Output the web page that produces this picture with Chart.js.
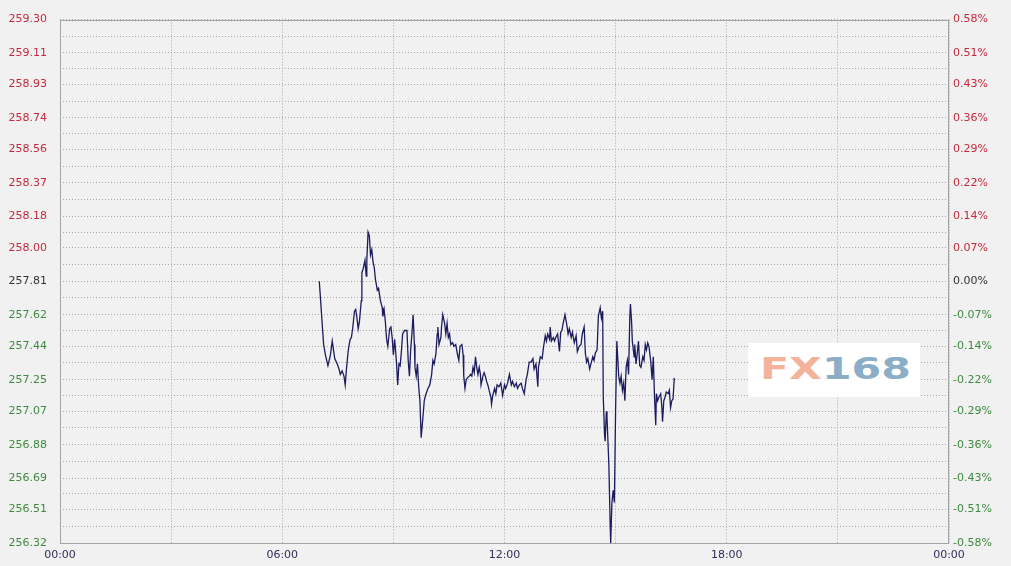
<!DOCTYPE html>
<html>
<head>
<meta charset="utf-8">
<script src="https://cdn.jsdelivr.net/npm/chart.js@4.4.0/dist/chart.umd.min.js"></script>
<style>
  html, body { margin: 0; padding: 0; background: #f1f1f1; }
  #wrap { position: relative; width: 1011px; height: 566px; }
  #logo {
    position: absolute; left: 748px; top: 343px; width: 172px; height: 54px;
    background: #fff; overflow: hidden;
  }
  #logo div {
    position: absolute; left: 12px; top: 6px; white-space: nowrap;
    font-family: "DejaVu Sans", sans-serif; font-weight: bold; font-size: 30px; line-height: 40px;
    transform: scaleX(1.42); transform-origin: left center;
  }
  #logo .fx { color: #f4b29b; }
  #logo .num { color: #8cadc6; }
</style>
</head>
<body>
<div id="wrap">
  <canvas id="myChart" width="1011" height="566" style="width:1011px;height:566px"></canvas>
  <div id="logo"><div><span class="fx">FX</span><span class="num">168</span></div></div>
</div>
<script>
  // tick labels, top to bottom
  const priceTicks = ['259.30', '259.11', '258.93', '258.74', '258.56', '258.37', '258.18', '258.00', '257.81',
    '257.62', '257.44', '257.25', '257.07', '256.88', '256.69', '256.51', '256.32'];
  const pctTicks = ['0.58%', '0.51%', '0.43%', '0.36%', '0.29%', '0.22%', '0.14%', '0.07%', '0.00%',
    '-0.07%', '-0.14%', '-0.22%', '-0.29%', '-0.36%', '-0.43%', '-0.51%', '-0.58%'];
  const timeTicks = ['00:00', '06:00', '12:00', '18:00', '00:00'];

  // intraday series
  const times = [
    '07:00', '07:07', '07:10', '07:14', '07:18', '07:21', '07:23', '07:25', '07:29', '07:32', '07:34', '07:37', '07:40', '07:42', '07:44', '07:47',
    '07:50', '07:52', '07:54', '07:57', '07:59', '08:01', '08:03', '08:05', '08:08', '08:09', '08:11', '08:14', '08:16', '08:17', '08:19', '08:21',
    '08:23', '08:25', '08:27', '08:29', '08:31', '08:34', '08:36', '08:39', '08:42', '08:43', '08:45', '08:47', '08:49', '08:51', '08:54', '08:56',
    '08:58', '09:00', '09:02', '09:03', '09:05', '09:07', '09:09', '09:11', '09:13', '09:15', '09:18', '09:22', '09:24', '09:26', '09:28', '09:30',
    '09:32', '09:34', '09:35', '09:37', '09:39', '09:41', '09:43', '09:45', '09:48', '09:50', '09:52', '09:54', '09:56', '09:59', '10:02', '10:04',
    '10:06', '10:09', '10:11', '10:12', '10:14', '10:17', '10:18', '10:20', '10:23', '10:25', '10:27', '10:29', '10:31', '10:33', '10:36', '10:38',
    '10:41', '10:44', '10:46', '10:48', '10:51', '10:53', '10:54', '10:56', '10:58', '11:00', '11:03', '11:05', '11:07', '11:09', '11:11', '11:13',
    '11:15', '11:17', '11:19', '11:21', '11:22', '11:25', '11:27', '11:29', '11:31', '11:33', '11:35', '11:38', '11:39', '11:41', '11:44', '11:46',
    '11:48', '11:51', '11:54', '11:57', '12:00', '12:02', '12:05', '12:08', '12:11', '12:13', '12:16', '12:19', '12:21', '12:24', '12:27', '12:29',
    '12:32', '12:35', '12:37', '12:40', '12:43', '12:46', '12:48', '12:51', '12:54', '12:55', '12:58', '13:01', '13:03', '13:06', '13:08', '13:10',
    '13:13', '13:14', '13:16', '13:19', '13:21', '13:23', '13:26', '13:29', '13:31', '13:33', '13:35', '13:38', '13:41', '13:43', '13:45', '13:48',
    '13:50', '13:53', '13:56', '13:58', '14:01', '14:04', '14:06', '14:09', '14:11', '14:13', '14:15', '14:18', '14:20', '14:23', '14:25', '14:27',
    '14:30', '14:32', '14:35', '14:37', '14:39', '14:40', '14:42', '14:43', '14:45', '14:46', '14:49', '14:51', '14:52', '14:54', '14:56', '14:58',
    '15:00', '15:02', '15:03', '15:05', '15:07', '15:09', '15:11', '15:13', '15:15', '15:17', '15:19', '15:21', '15:23', '15:24', '15:26', '15:27',
    '15:30', '15:31', '15:33', '15:35', '15:37', '15:39', '15:41', '15:44', '15:46', '15:48', '15:50', '15:52', '15:54', '15:57', '15:59', '16:01',
    '16:03', '16:05', '16:06', '16:08', '16:10', '16:13', '16:15', '16:16', '16:18', '16:20', '16:22', '16:25', '16:27', '16:29', '16:31', '16:33',
    '16:35'
  ];
  const prices = [
    257.81, 257.45, 257.39, 257.33, 257.39, 257.47, 257.42, 257.37, 257.34, 257.31, 257.28, 257.30, 257.27, 257.22, 257.31, 257.42,
    257.48, 257.49, 257.54, 257.64, 257.65, 257.60, 257.54, 257.58, 257.70, 257.86, 257.88, 257.93, 257.84, 257.93, 258.09, 258.07,
    257.96, 257.99, 257.92, 257.89, 257.82, 257.76, 257.77, 257.70, 257.66, 257.61, 257.65, 257.58, 257.48, 257.44, 257.54, 257.55,
    257.49, 257.39, 257.48, 257.44, 257.35, 257.22, 257.34, 257.33, 257.41, 257.51, 257.53, 257.53, 257.36, 257.27, 257.42, 257.51,
    257.62, 257.45, 257.32, 257.27, 257.34, 257.21, 257.13, 256.92, 257.04, 257.13, 257.16, 257.18, 257.20, 257.22, 257.28, 257.36,
    257.34, 257.40, 257.51, 257.55, 257.45, 257.49, 257.55, 257.62, 257.57, 257.51, 257.57, 257.49, 257.51, 257.45, 257.46, 257.44,
    257.45, 257.39, 257.36, 257.44, 257.45, 257.39, 257.27, 257.20, 257.25, 257.26, 257.27, 257.28, 257.27, 257.32, 257.29, 257.38,
    257.32, 257.28, 257.32, 257.28, 257.22, 257.27, 257.29, 257.27, 257.24, 257.22, 257.19, 257.15, 257.11, 257.16, 257.20, 257.17,
    257.22, 257.21, 257.23, 257.16, 257.22, 257.20, 257.23, 257.28, 257.22, 257.24, 257.21, 257.23, 257.20, 257.22, 257.23, 257.20,
    257.17, 257.25, 257.28, 257.35, 257.35, 257.37, 257.31, 257.34, 257.21, 257.32, 257.38, 257.37, 257.43, 257.50, 257.47, 257.51,
    257.48, 257.55, 257.47, 257.49, 257.47, 257.49, 257.51, 257.41, 257.52, 257.53, 257.57, 257.62, 257.56, 257.51, 257.54, 257.49,
    257.52, 257.46, 257.50, 257.41, 257.44, 257.45, 257.51, 257.55, 257.40, 257.35, 257.37, 257.31, 257.34, 257.38, 257.36, 257.40,
    257.42, 257.61, 257.66, 257.60, 257.64, 257.15, 256.94, 256.90, 257.07, 257.04, 256.77, 256.45, 256.32, 256.55, 256.62, 256.55,
    257.09, 257.47, 257.40, 257.27, 257.23, 257.27, 257.19, 257.23, 257.13, 257.32, 257.36, 257.28, 257.61, 257.68, 257.57, 257.47,
    257.38, 257.45, 257.34, 257.40, 257.47, 257.33, 257.32, 257.38, 257.36, 257.45, 257.42, 257.46, 257.44, 257.35, 257.25, 257.38,
    257.15, 256.99, 257.17, 257.13, 257.15, 257.17, 257.09, 257.01, 257.13, 257.15, 257.18, 257.17, 257.19, 257.09, 257.13, 257.14,
    257.26
  ];

  Chart.defaults.font.family = '"DejaVu Sans", Verdana, sans-serif';
  Chart.defaults.font.size = 11;

  const toMin = t => { const p = t.split(':'); return +p[0] * 60 + +p[1]; };
  const points = times.map((t, i) => ({ x: toMin(t), y: prices[i] }));

  const yMin = Number(priceTicks[priceTicks.length - 1]);
  const yMax = Number(priceTicks[0]);
  const mid = (priceTicks.length - 1) / 2;

  // labelled ticks plus a grid line half way between each pair (bottom to top)
  const ascLabels = priceTicks.slice().reverse();
  const gridVals = [];
  ascLabels.forEach((v, i) => {
    gridVals.push(Number(v));
    if (i < ascLabels.length - 1) gridVals.push((Number(v) + Number(ascLabels[i + 1])) / 2);
  });
  const setYTicks = axis => { axis.ticks = gridVals.map(v => ({ value: v })); };

  const labelColor = idx => {
    if (idx % 2) return 'rgba(0,0,0,0)';
    const k = (priceTicks.length - 1) - idx / 2; // index into top-down list
    if (k < mid) return '#c42a3e';
    if (k > mid) return '#3f8a3f';
    return '#333333';
  };

  const framePlugin = {
    id: 'frame',
    beforeDatasetsDraw(chart) {
      const a = chart.chartArea, ctx = chart.ctx;
      ctx.save();
      ctx.strokeStyle = '#a3a3a3';
      ctx.lineWidth = 1;
      ctx.strokeRect(Math.round(a.left) + 0.5, Math.round(a.top) + 0.5, Math.round(a.width) - 1, Math.round(a.height));
      ctx.restore();
    }
  };

  const ctx = document.getElementById('myChart');
  new Chart(ctx, {
    type: 'line',
    data: {
      datasets: [{
        data: points,
        borderColor: '#1b1b5e',
        borderWidth: 1.3,
        pointRadius: 0,
        tension: 0,
        fill: false
      }]
    },
    options: {
      responsive: false,
      animation: false,
      events: [],
      layout: { padding: { top: 18, left: 0, right: 0, bottom: 0 } },
      plugins: { legend: { display: false }, tooltip: { enabled: false } },
      scales: {
        x: {
          type: 'linear',
          min: 0,
          max: 1440,
          afterBuildTicks: axis => {
            const t = [];
            for (let m = 0; m <= 1440; m += 180) t.push({ value: m });
            axis.ticks = t;
          },
          afterFit: s => { s.height = 23; },
          grid: { color: '#a8a8a8', drawTicks: false, lineWidth: 1 },
          border: { display: false, dash: [1, 2] },
          ticks: {
            autoSkip: false,
            maxRotation: 0,
            padding: 6,
            color: '#2e2e5a',
            callback: v => (v % 360 === 0 ? timeTicks[v / 360] : '')
          }
        },
        y: {
          position: 'left',
          min: yMin,
          max: yMax,
          afterBuildTicks: setYTicks,
          afterFit: s => { s.width = 60; },
          grid: { color: '#a8a8a8', drawTicks: false, lineWidth: 1 },
          border: { display: false, dash: [1, 2] },
          ticks: {
            autoSkip: false,
            padding: 13,
            color: c => labelColor(c.index),
            callback: (v, i) => (i % 2 ? '' : ascLabels[i / 2])
          }
        },
        y2: {
          position: 'right',
          min: yMin,
          max: yMax,
          afterBuildTicks: setYTicks,
          afterFit: s => { s.width = 62; },
          grid: { display: false, drawTicks: false },
          border: { display: false },
          ticks: {
            autoSkip: false,
            padding: 4,
            color: c => labelColor(c.index),
            callback: (v, i) => (i % 2 ? '' : pctTicks[pctTicks.length - 1 - i / 2])
          }
        }
      }
    },
    plugins: [framePlugin]
  });
</script>
</body>
</html>
